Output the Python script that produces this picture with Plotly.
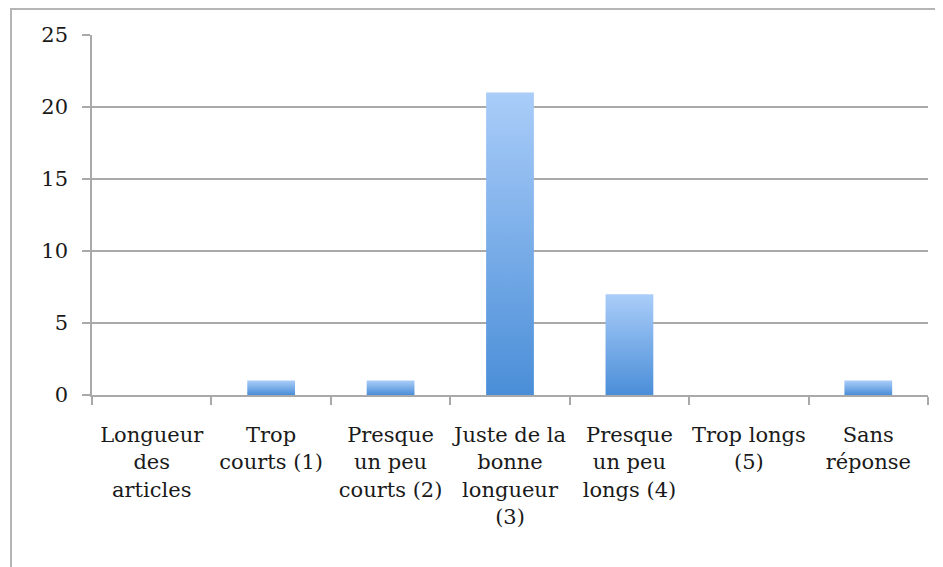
import plotly.graph_objects as go

categories = [
    "Longueur<br>des<br>articles",
    "Trop<br>courts (1)",
    "Presque<br>un peu<br>courts (2)",
    "Juste de la<br>bonne<br>longueur<br>(3)",
    "Presque<br>un peu<br>longs (4)",
    "Trop longs<br>(5)",
    "Sans<br>réponse",
]
values = [0, 1, 1, 21, 7, 0, 1]
y_ticks = [0, 5, 10, 15, 20, 25]

BAR_HALF = 0.2
TOP_COLOR = "#aacdf9"
BOTTOM_COLOR = "#4a8ed8"
GRID = "#a9a9a9"
FONT = "DejaVu Serif"

fig = go.Figure()
for i, v in enumerate(values):
    if v <= 0:
        continue
    fig.add_trace(go.Scatter(
        x=[i - BAR_HALF, i - BAR_HALF, i + BAR_HALF, i + BAR_HALF, i - BAR_HALF],
        y=[0, v, v, 0, 0],
        mode="lines",
        line=dict(width=0, color=BOTTOM_COLOR),
        fill="toself",
        fillgradient=dict(type="vertical",
                          colorscale=[[0, BOTTOM_COLOR], [1, TOP_COLOR]]),
        hoverinfo="skip",
        showlegend=False,
    ))

n = len(categories)
W, H = 935, 559
L, R, T, B = 84, 15, 27, 172
fig.update_layout(
    width=W, height=H,
    margin=dict(l=L, r=R, t=T, b=B),
    paper_bgcolor="white", plot_bgcolor="white",
    showlegend=False,
    font=dict(family=FONT, size=21, color="#1a1a1a"),
    xaxis=dict(
        range=[-0.5, n - 0.5],
        tickmode="array",
        tickvals=list(range(n)),
        ticktext=categories,
        ticks="",
        ticklabelstandoff=20,
        showgrid=False, zeroline=False,
        showline=True, linecolor=GRID, linewidth=1.5,
        minor=dict(tickvals=[k - 0.5 for k in range(n + 1)], ticks="outside",
                   ticklen=8, tickwidth=1.5, tickcolor=GRID, showgrid=False),
        fixedrange=True,
    ),
    yaxis=dict(
        range=[0, 25],
        tickmode="array",
        tickvals=y_ticks,
        ticks="outside", ticklen=8, tickwidth=1.5, tickcolor=GRID,
        ticklabelstandoff=10,
        showgrid=True, gridcolor=GRID, gridwidth=1.5,
        zeroline=False,
        showline=True, linecolor=GRID, linewidth=1.5,
        fixedrange=True,
    ),
    shapes=[dict(type="rect", xref="paper", yref="paper",
                 x0=-(L - 3) / (W - L - R), x1=1.05,
                 y0=-0.6, y1=1 + (T - 1) / (H - T - B),
                 line=dict(color="#b5b5b5", width=2), layer="below")],
)

fig.write_html("out.html")
